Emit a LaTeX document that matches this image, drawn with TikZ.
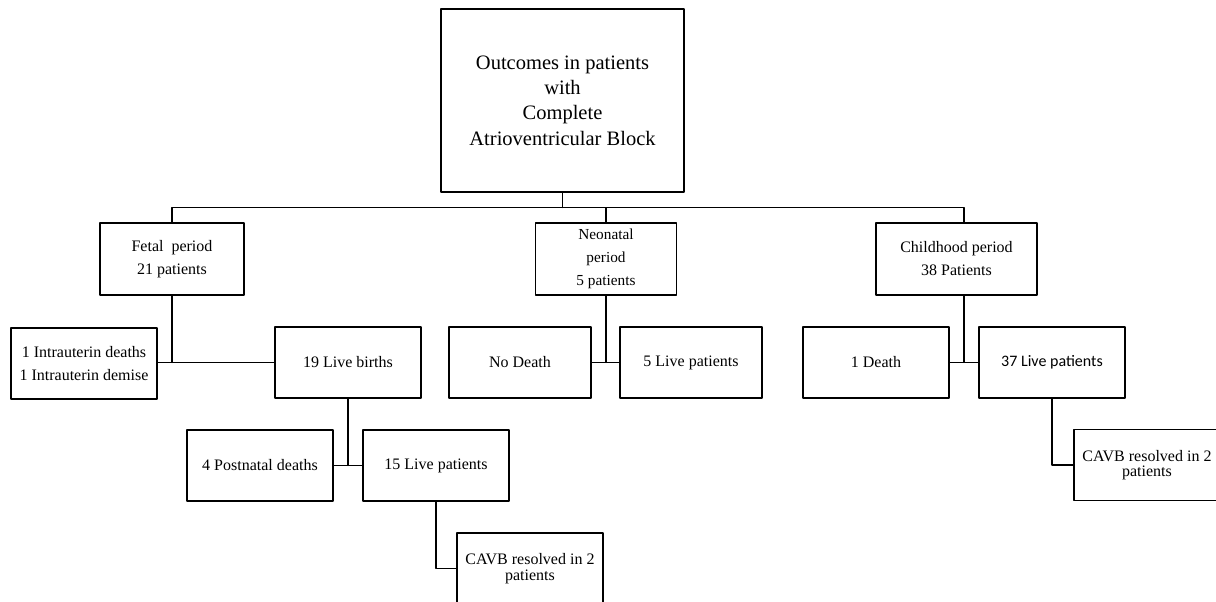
\documentclass[tikz,border=0pt]{standalone}
\usepackage{fontspec}
\setmainfont{Liberation Serif}
\newfontfamily\calibrifont{Carlito}
\usetikzlibrary{calc}
\begin{document}
\begin{tikzpicture}[x=1pt, y=-1pt, line cap=round, line join=round, line width=1.1pt, font=\fontsize{16}{23}\selectfont]
	\tikzset{box style/.style={draw, inner sep=0pt, align=center, minimum width=146pt, minimum height=71pt},
		period style/.style={box style, minimum height=72pt}}
	\useasboundingbox (0,0) rectangle (1216,602);
	% root
	\node[box style, minimum width=243pt, minimum height=183pt, font=\fontsize{20.5}{25.3}\selectfont] (top) at (562.5,100.5) {Outcomes in patients\\with\\Complete\\Atrioventricular Block};
	% periods
	\node[period style, minimum width=144pt] (fetal) at (172,259) {Fetal\ \ period\\21 patients};
	\node[period style, minimum width=141pt, font=\fontsize{15.3}{23}\selectfont] (neonatal) at (606,259) {Neonatal\\period\\5 patients};
	\node[period style, minimum width=161pt] (childhood) at (956.5,259) {Childhood period\\38 Patients};
	% fetal branch
	\node[box style] (intra) at (84,363.5) {1 Intrauterin deaths\\1 Intrauterin demise};
	\node[box style] (births) at (348,362.5) {19 Live births};
	\node[box style] (postnatal) at (260,465.5) {4 Postnatal deaths};
	\node[box style] (live15) at (436,465.5) {15 Live patients};
	\node[box style, font=\fontsize{16}{16.5}\selectfont] (cavbfetal) at (530,568.5) {CAVB resolved in 2\\patients};
	% neonatal branch
	\node[box style, minimum width=142pt] (nodeath) at (520,362.5) {No Death};
	\node[box style, minimum width=142pt] (live5) at (691,362.5) {5 Live patients};
	% childhood branch
	\node[box style] (death1) at (876,362.5) {1 Death};
	\node[box style, font=\calibrifont\fontsize{16}{19}\selectfont] (live37) at (1052,362.5) {37 Live patients};
	\node[box style, font=\fontsize{16}{15.5}\selectfont] (cavbchild) at (1147,465) {CAVB resolved in 2\\patients};
	% connectors
	\coordinate (bus) at ($(top.south)+(0,15)$);
	\coordinate (cjoin) at ($(death1.east)!0.5!(live37.west)$);
	\draw (top.south) -- (bus);
	\draw (fetal.north) -- (fetal.north |- bus) -- (cjoin |- bus) -- (cjoin |- childhood.north);
	\draw (neonatal.north) -- (neonatal.north |- bus);
	\draw (fetal.south) -- (fetal.south |- births.west);
	\draw (intra.east |- births.west) -- (births.west);
	\draw (births.south) -- (births.south |- live15.west);
	\draw (postnatal.east) -- (live15.west);
	\draw (live15.south) |- (cavbfetal.west);
	\draw (neonatal.south) -- (neonatal.south |- live5.west);
	\draw (nodeath.east) -- (live5.west);
	\draw (cjoin |- childhood.south) -- (cjoin);
	\draw (death1.east) -- (live37.west);
	\draw (live37.south) |- (cavbchild.west);
\end{tikzpicture}
\end{document}
